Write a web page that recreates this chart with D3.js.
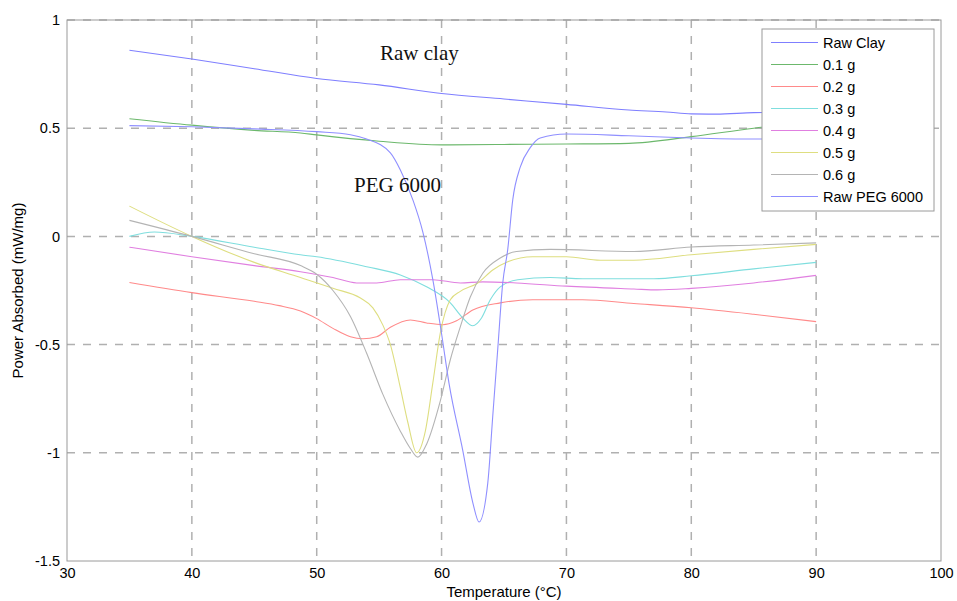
<!DOCTYPE html>
<html><head><meta charset="utf-8">
<script src="https://cdn.jsdelivr.net/npm/d3@7"></script>
<style>body{margin:0;background:#fff}svg{display:block}</style>
</head><body>
<script>
const seriesNames = ["Raw Clay","0.1 g","0.2 g","0.3 g","0.4 g","0.5 g","0.6 g","Raw PEG 6000"];
const seriesColors = ["#7f7fff","#6cb86c","#ff8a8a","#7fdede","#e07fe0","#dede80","#b4b4b4","#8f8fff"];
const xTicks = [30,40,50,60,70,80,90,100];
const yTicks = [-1.5,-1,-0.5,0,0.5,1];

const rawClay = [[35,0.86],[40,0.82],[45,0.775],[50,0.73],[55,0.70],[60,0.66],[65,0.635],[70,0.61],[75,0.584],[78,0.575],[80,0.566],[82,0.565],[85,0.572],[90,0.575]];
const g01 = [[35,0.544],[40,0.514],[45,0.49],[48.7,0.478],[50,0.469],[55,0.44],[60,0.423],[65,0.425],[70,0.427],[75,0.43],[80,0.461],[85,0.50],[90,0.53]];
const g02 = [[35,-0.213],[40,-0.26],[45,-0.30],[47,-0.32],[48.7,-0.345],[50,-0.38],[51.3,-0.425],[52.7,-0.464],[53.7,-0.473],[54.8,-0.464],[55.9,-0.42],[57.5,-0.386],[58.8,-0.40],[60.1,-0.408],[61.2,-0.39],[62.5,-0.34],[64.7,-0.307],[67.3,-0.293],[71.3,-0.293],[75.4,-0.31],[80,-0.33],[85,-0.36],[90,-0.394]];
const g03 = [[35,0.0],[37,0.02],[40,0.0],[45,-0.05],[48.7,-0.085],[50,-0.094],[54,-0.14],[56.7,-0.178],[58.8,-0.233],[60.7,-0.307],[61.7,-0.377],[62.5,-0.413],[63.2,-0.377],[63.9,-0.293],[64.7,-0.233],[66.1,-0.2],[68.7,-0.19],[71.3,-0.196],[77,-0.196],[80,-0.182],[85,-0.15],[90,-0.12]];
const g04 = [[35,-0.05],[40,-0.094],[45,-0.135],[48.7,-0.163],[51.3,-0.19],[53.2,-0.215],[54.8,-0.215],[56.7,-0.2],[59.3,-0.2],[61.5,-0.215],[63.3,-0.21],[66,-0.215],[70,-0.23],[75.4,-0.243],[77.3,-0.247],[80,-0.24],[85,-0.215],[90,-0.18]];
const g05 = [[35,0.14],[40,0.0],[45,-0.12],[48.7,-0.19],[51.3,-0.24],[53.5,-0.285],[54.5,-0.33],[55.3,-0.41],[55.9,-0.5],[56.7,-0.7],[57.3,-0.86],[58.0,-1.0],[58.7,-0.9],[59.3,-0.677],[59.9,-0.446],[60.7,-0.293],[61.5,-0.254],[62.9,-0.215],[64.1,-0.155],[65.3,-0.117],[67.3,-0.094],[70,-0.094],[72.7,-0.11],[75.4,-0.11],[80,-0.085],[85,-0.06],[90,-0.037]];
const g06 = [[35,0.074],[40,0.0],[45,-0.08],[48.7,-0.135],[50,-0.175],[51.3,-0.25],[52.7,-0.37],[54,-0.54],[55.3,-0.73],[56.7,-0.9],[57.5,-0.98],[58.1,-1.02],[58.8,-0.96],[59.9,-0.76],[60.7,-0.57],[61.5,-0.418],[62.3,-0.28],[63.3,-0.17],[64.7,-0.1],[66,-0.07],[68.7,-0.06],[75.4,-0.07],[80,-0.049],[85,-0.04],[90,-0.03]];
const rawPeg = [[35,0.512],[40,0.507],[45,0.497],[50,0.484],[52.7,0.47],[54,0.45],[55.9,0.386],[56.7,0.307],[57.7,0.169],[58.5,0.02],[59.3,-0.2],[60.0,-0.45],[60.6,-0.68],[61.7,-0.99],[62.5,-1.23],[63.0,-1.32],[63.7,-1.14],[64.1,-0.83],[64.5,-0.52],[64.9,-0.215],[65.3,-0.06],[65.7,0.169],[66.3,0.32],[67.1,0.41],[67.9,0.455],[70,0.473],[75,0.465],[80,0.455],[85,0.45],[90,0.45]];
const allSeries = [rawClay,g01,g02,g03,g04,g05,g06,rawPeg];

const W=957,H=601;
const L=67,R=941,T=20,B=561;
const svg=d3.select("body").append("svg").attr("width",W).attr("height",H);
const x=d3.scaleLinear().domain([30,100]).range([L,R]);
const y=d3.scaleLinear().domain([-1.5,1]).range([B,T]);
const font="'Liberation Sans', Arial, sans-serif";

// grid
const g=svg.append("g");
g.selectAll("line.vg").data(xTicks.filter(d=>d>30&&d<100)).join("line")
 .attr("x1",d=>x(d)).attr("x2",d=>x(d)).attr("y1",T).attr("y2",B)
 .attr("stroke","#b0b0b0").attr("stroke-width",1.5).attr("stroke-dasharray","8,8");
g.selectAll("line.hg").data(yTicks.filter(d=>d>-1.5)).join("line")
 .attr("x1",L).attr("x2",R).attr("y1",d=>y(d)).attr("y2",d=>y(d))
 .attr("stroke","#b0b0b0").attr("stroke-width",1.5).attr("stroke-dasharray","8,8");

// box
svg.append("rect").attr("x",L).attr("y",T).attr("width",R-L).attr("height",B-T)
 .attr("fill","none").attr("stroke","#9a9a9a").attr("stroke-width",1);

// axes
const xa=svg.append("g").attr("transform",`translate(0,${B})`)
 .call(d3.axisBottom(x).tickValues(xTicks).tickSize(0).tickPadding(7).tickFormat(d3.format("d")));
xa.select(".domain").remove();
xa.selectAll("text").attr("font-family",font).attr("font-size",14.5).attr("fill","#000");
const ya=svg.append("g").attr("transform",`translate(${L},0)`)
 .call(d3.axisLeft(y).tickValues(yTicks).tickSize(0).tickPadding(7).tickFormat(d=>String(d)));
ya.select(".domain").remove();
ya.selectAll("text").attr("font-family",font).attr("font-size",14.5).attr("fill","#000");

// lines
const line=d3.line().x(d=>x(d[0])).y(d=>y(d[1])).curve(d3.curveMonotoneX);
allSeries.forEach((s,i)=>{
  svg.append("path").datum(s).attr("d",line).attr("fill","none")
   .attr("stroke",seriesColors[i]).attr("stroke-width",1.1);
});

// annotations
svg.append("text").attr("x",380).attr("y",60).text("Raw clay")
 .attr("font-family","'Liberation Serif', 'Times New Roman', serif").attr("font-size",21).attr("fill","#111");
svg.append("text").attr("x",354).attr("y",192).text("PEG 6000")
 .attr("font-family","'Liberation Serif', 'Times New Roman', serif").attr("font-size",21).attr("fill","#111");

// axis labels
svg.append("text").attr("x",(L+R)/2).attr("y",597).attr("text-anchor","middle")
 .attr("font-family",font).attr("font-size",15).text("Temperature (°C)");
svg.append("text").attr("transform",`translate(23,${(T+B)/2}) rotate(-90)`).attr("text-anchor","middle")
 .attr("font-family",font).attr("font-size",15).text("Power Absorbed (mW/mg)");

// legend
const lg=svg.append("g");
lg.append("rect").attr("x",762).attr("y",29).attr("width",172).attr("height",182)
 .attr("fill","#fff").attr("stroke","#9a9a9a").attr("stroke-width",1);
seriesNames.forEach((n,i)=>{
  const yy=42.5+i*22;
  lg.append("line").attr("x1",771).attr("x2",818).attr("y1",yy).attr("y2",yy)
   .attr("stroke",seriesColors[i]).attr("stroke-width",1.1);
  lg.append("text").attr("x",823).attr("y",yy+5).text(n)
   .attr("font-family",font).attr("font-size",14.5).attr("fill","#000");
});
</script>
</body></html>
